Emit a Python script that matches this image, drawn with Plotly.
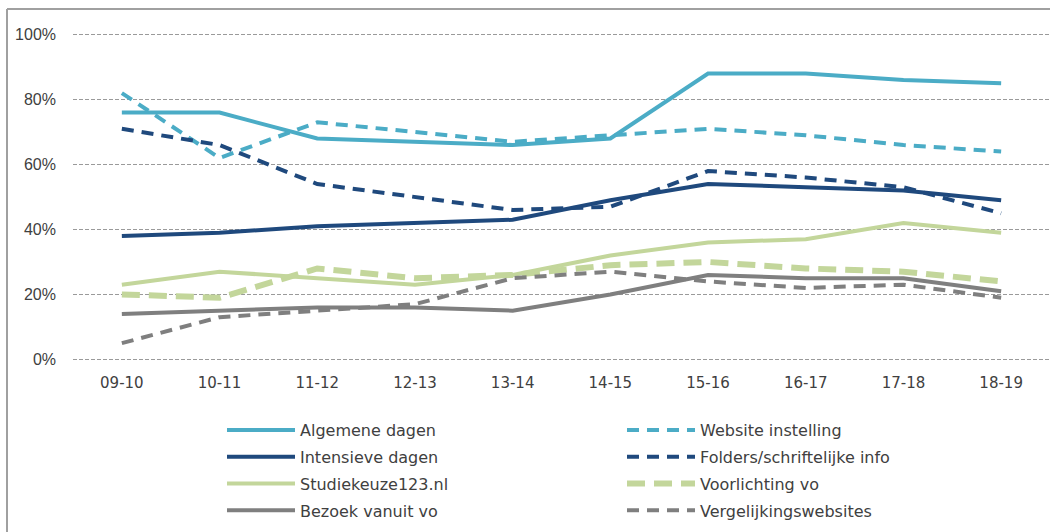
import plotly.graph_objects as go

# School years on the x axis
years = ["09-10", "10-11", "11-12", "12-13", "13-14", "14-15", "15-16", "16-17", "17-18", "18-19"]

# Share of respondents (%) per orientation activity
algemene_dagen = [76, 76, 68, 67, 66, 68, 88, 88, 86, 85]
website_instelling = [82, 62, 73, 70, 67, 69, 71, 69, 66, 64]
intensieve_dagen = [38, 39, 41, 42, 43, 49, 54, 53, 52, 49]
folders_info = [71, 66, 54, 50, 46, 47, 58, 56, 53, 45]
studiekeuze123 = [23, 27, 25, 23, 26, 32, 36, 37, 42, 39]
voorlichting_vo = [20, 19, 28, 25, 26, 29, 30, 28, 27, 24]
bezoek_vanuit_vo = [14, 15, 16, 16, 15, 20, 26, 25, 25, 21]
vergelijkingswebsites = [5, 13, 15, 17, 25, 27, 24, 22, 23, 19]

tick_vals = [0, 20, 40, 60, 80, 100]
tick_text = ["0%", "20%", "40%", "60%", "80%", "100%"]

LIGHT_BLUE = "#4BACC6"
DARK_BLUE = "#1F497D"
LIGHT_GREEN = "#C3D69B"
GREY = "#7F7F7F"

series = [
    # name, values, colour, width, dash, legend
    ("Algemene dagen", algemene_dagen, LIGHT_BLUE, 4, "solid", "legend"),
    ("Intensieve dagen", intensieve_dagen, DARK_BLUE, 4, "solid", "legend"),
    ("Studiekeuze123.nl", studiekeuze123, LIGHT_GREEN, 4, "solid", "legend"),
    ("Bezoek vanuit vo", bezoek_vanuit_vo, GREY, 4, "solid", "legend"),
    ("Website instelling", website_instelling, LIGHT_BLUE, 4, "12px,8px", "legend2"),
    ("Folders/schriftelijke info", folders_info, DARK_BLUE, 4, "12px,8px", "legend2"),
    ("Voorlichting vo", voorlichting_vo, LIGHT_GREEN, 6, "18px,9px", "legend2"),
    ("Vergelijkingswebsites", vergelijkingswebsites, GREY, 4, "12px,8px", "legend2"),
]

fig = go.Figure()
for name, vals, col, w, dash, leg in series:
    fig.add_trace(go.Scatter(
        x=years, y=vals, name=name, mode="lines",
        line=dict(color=col, width=w, dash=dash),
        legend=leg, legendgroup=name,
    ))

W, H = 1050, 532
PAD = 0.8  # headroom so the 0% and 100% gridlines are drawn
L, R, T = 73, 0, 32
ph = 330
B = H - T - ph
pw = W - L - R

def px_x(p):
    return (p - L) / pw

def px_y(p):
    return (H - B - p) / ph

legend_font = dict(family="DejaVu Sans", size=16, color="#404040")

fig.update_layout(
    width=W, height=H,
    margin=dict(l=L, r=R, t=T, b=B, autoexpand=False),
    paper_bgcolor="white", plot_bgcolor="white",
    xaxis=dict(
        type="category", range=[-0.5, 9.5], showgrid=False, showline=False,
        zeroline=False, ticks="", automargin=False, ticklabelstandoff=10,
        tickfont=dict(family="DejaVu Sans", size=15, color="#404040"),
    ),
    yaxis=dict(
        range=[-PAD, 100 + PAD], tickvals=tick_vals, ticktext=tick_text,
        showgrid=True, gridcolor="#9A9A9A", gridwidth=1, griddash="4px,2px",
        zeroline=False, showline=False, ticks="", ticklabelstandoff=16,
        automargin=False,
        tickfont=dict(family="Liberation Sans", size=16, color="#404040"),
    ),
    legend=dict(
        x=px_x(222), y=px_y(413), xanchor="left", yanchor="top",
        orientation="v", traceorder="grouped", tracegroupgap=3,
        itemwidth=68, font=legend_font, bgcolor="rgba(0,0,0,0)",
    ),
    legend2=dict(
        x=px_x(622), y=px_y(413), xanchor="left", yanchor="top",
        orientation="v", traceorder="grouped", tracegroupgap=3,
        itemwidth=68, font=legend_font, bgcolor="rgba(0,0,0,0)",
    ),
    showlegend=True,
)

# Chart frame (top and left edges)
frame = dict(color="#A0A0A0", width=2)
fig.add_shape(type="line", xref="paper", yref="paper",
              x0=px_x(7), x1=px_x(1052), y0=px_y(9), y1=px_y(9), line=frame)
fig.add_shape(type="line", xref="paper", yref="paper",
              x0=px_x(7), x1=px_x(7), y0=px_y(9), y1=px_y(540), line=frame)

fig.write_html("out.html")
